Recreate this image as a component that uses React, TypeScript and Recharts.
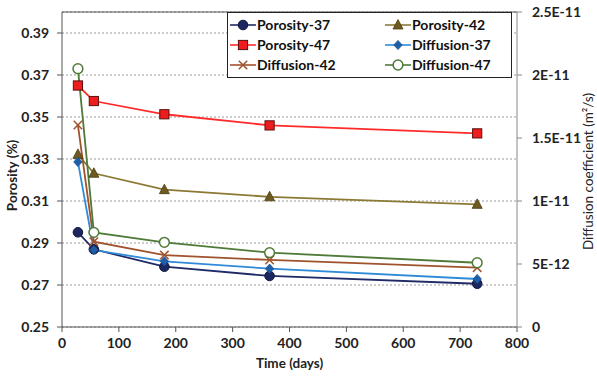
import React from "react";
import { LineChart, Line, XAxis, YAxis, CartesianGrid, Legend, ReferenceLine } from "recharts";

const days = [28, 56, 180, 365, 730];

const porosity37 = [0.2951, 0.287, 0.2787, 0.2743, 0.2706];
const porosity42 = [0.3322, 0.3232, 0.3154, 0.312, 0.3084];
const porosity47 = [0.365, 0.3576, 0.3513, 0.346, 0.3422];

const diffusion37 = [1.31e-11, 6.11e-12, 5.21e-12, 4.63e-12, 3.81e-12];
const diffusion42 = [1.603e-11, 6.77e-12, 5.71e-12, 5.32e-12, 4.71e-12];
const diffusion47 = [2.05e-11, 7.51e-12, 6.72e-12, 5.9e-12, 5.1e-12];

const xTicks = [0, 100, 200, 300, 400, 500, 600, 700, 800];
const porosityTicks = [0.25, 0.27, 0.29, 0.31, 0.33, 0.35, 0.37, 0.39];
const diffTicks = [0, 5e-12, 1e-11, 1.5e-11, 2e-11, 2.5e-11];
const diffTickLabels = ["0", "5E-12", "1E-11", "1.5E-11", "2E-11", "2.5E-11"];

const data = days.map((d, i) => ({
  day: d,
  p37: porosity37[i],
  p42: porosity42[i],
  p47: porosity47[i],
  d37: diffusion37[i],
  d42: diffusion42[i],
  d47: diffusion47[i],
}));

const FONT = "Lato, 'Open Sans', sans-serif";

type Shape = "circle" | "square" | "triangle" | "diamond" | "cross" | "ring";

const series = [
  { key: "p37", name: "Porosity-37", axis: "left", color: "#1f2a66", fill: "#1c2760", shape: "circle" as Shape },
  { key: "p42", name: "Porosity-42", axis: "left", color: "#8c7a34", fill: "#6e5a1e", shape: "triangle" as Shape },
  { key: "p47", name: "Porosity-47", axis: "left", color: "#ff2b2b", fill: "#ee1c1c", shape: "square" as Shape },
  { key: "d37", name: "Diffusion-37", axis: "right", color: "#2f8ad8", fill: "#1d5fa8", shape: "diamond" as Shape },
  { key: "d42", name: "Diffusion-42", axis: "right", color: "#a0522d", fill: "#a0522d", shape: "cross" as Shape },
  { key: "d47", name: "Diffusion-47", axis: "right", color: "#4f7a37", fill: "#4f7a37", shape: "ring" as Shape },
];

function marker(shape: Shape, cx: number, cy: number, fill: string, color: string) {
  switch (shape) {
    case "circle":
      return <circle cx={cx} cy={cy} r={4.8} fill={fill} stroke="#10183a" strokeWidth={1} />;
    case "square":
      return <rect x={cx - 4.6} y={cy - 4.6} width={9.2} height={9.2} fill={fill} stroke="#5a1010" strokeWidth={1} />;
    case "triangle":
      return (
        <polygon
          points={`${cx},${cy - 5.5} ${cx - 5},${cy + 4} ${cx + 5},${cy + 4}`}
          fill={fill}
          stroke="#4a3c12"
          strokeWidth={0.8}
        />
      );
    case "diamond":
      return (
        <polygon
          points={`${cx},${cy - 4.6} ${cx + 4.2},${cy} ${cx},${cy + 4.6} ${cx - 4.2},${cy}`}
          fill={fill}
          stroke="#1a4f8c"
          strokeWidth={0.8}
        />
      );
    case "cross":
      return (
        <g stroke={color} strokeWidth={1.5}>
          <line x1={cx - 4.2} y1={cy - 4.2} x2={cx + 4.2} y2={cy + 4.2} />
          <line x1={cx - 4.2} y1={cy + 4.2} x2={cx + 4.2} y2={cy - 4.2} />
        </g>
      );
    case "ring":
      return <circle cx={cx} cy={cy} r={4.9} fill="#fff" stroke={color} strokeWidth={1.5} />;
  }
}

function makeDot(shape: Shape, fill: string, color: string) {
  return (props: any) => {
    const { cx, cy, index } = props;
    if (cx == null || cy == null) return <g key={index} />;
    return <g key={index}>{marker(shape, cx, cy, fill, color)}</g>;
  };
}

const legendOrder = ["p37", "p42", "p47", "d37", "d42", "d47"];

function renderLegend() {
  return (
    <div
      style={{
        border: "1px solid #222",
        background: "#fff",
        display: "grid",
        gridTemplateColumns: "155px 128px",
        rowGap: 1,
        padding: "2px 0 3px 2px",
        fontFamily: FONT,
        fontWeight: 700,
        fontSize: 14,
        color: "#111",
      }}
    >
      {legendOrder.map((k) => {
        const s = series.find((x) => x.key === k)!;
        return (
          <div key={k} style={{ display: "flex", alignItems: "center", height: 19 }}>
            <svg width={26} height={14} style={{ marginRight: 1 }}>
              <line x1={0} y1={7} x2={26} y2={7} stroke={s.color} strokeWidth={1.6} />
              {marker(s.shape, 13, 7, s.fill, s.color)}
            </svg>
            <span>{s.name}</span>
          </div>
        );
      })}
    </div>
  );
}

const tickStyle = { fontSize: 14, fontWeight: 700, fill: "#222", fontFamily: FONT };

export default function App() {
  return (
    <div style={{ position: "absolute", left: 0, top: 0, width: 597, height: 378, background: "#fff" }}>
      <LineChart width={597} height={378} data={data} margin={{ top: 12, right: 0, bottom: 0, left: 0 }}>
        <CartesianGrid yAxisId="left" vertical={false} stroke="#9a9a9a" strokeDasharray="2 2" />
        <XAxis
          dataKey="day"
          type="number"
          domain={[0, 800]}
          ticks={xTicks}
          height={51}
          tick={tickStyle}
          tickSize={5}
          tickMargin={6}
          stroke="#555"
          label={({ viewBox }: any) => (
            <text
              x={viewBox.x + viewBox.width / 2}
              y={viewBox.y + 41}
              textAnchor="middle"
              style={{ fontSize: 13.5, fontWeight: 700, fill: "#222", fontFamily: FONT }}
            >
              Time (days)
            </text>
          )}
        />
        <YAxis
          yAxisId="left"
          domain={[0.25, 0.4]}
          ticks={porosityTicks}
          width={62}
          tick={tickStyle}
          tickSize={5}
          tickMargin={8}
          tickFormatter={(v: number) => v.toFixed(2)}
          stroke="#555"
          label={({ viewBox }: any) => {
            const x = viewBox.x + 14;
            const y = viewBox.y + viewBox.height / 2 + 6;
            return (
              <text
                x={x}
                y={y}
                transform={`rotate(-90, ${x}, ${y})`}
                textAnchor="middle"
                dominantBaseline="middle"
                style={{ fontSize: 13.5, fontWeight: 700, fill: "#222", fontFamily: FONT }}
              >
                Porosity (%)
              </text>
            );
          }}
        />
        <YAxis
          yAxisId="right"
          orientation="right"
          domain={[0, 2.5e-11]}
          ticks={diffTicks}
          width={80}
          tick={tickStyle}
          tickSize={5}
          tickMargin={10}
          tickFormatter={(v: number) => diffTickLabels[diffTicks.indexOf(v)] ?? ""}
          stroke="#888"
          label={({ viewBox }: any) => {
            const x = viewBox.x + 73;
            const y = viewBox.y + viewBox.height / 2 + 2;
            return (
              <text
                x={x}
                y={y}
                transform={`rotate(-90, ${x}, ${y})`}
                textAnchor="middle"
                dominantBaseline="middle"
                style={{ fontSize: 13.5, fontWeight: 400, fill: "#222", fontFamily: FONT }}
              >
                Diffusion coefficient (m²/s)
              </text>
            );
          }}
        />
        <ReferenceLine yAxisId="left" y={0.4} stroke="#555" />
        {series.map((s) => (
          <Line
            key={s.key}
            yAxisId={s.axis}
            dataKey={s.key}
            name={s.name}
            stroke={s.color}
            strokeWidth={1.8}
            dot={makeDot(s.shape, s.fill, s.color)}
            activeDot={false}
            isAnimationActive={false}
          />
        ))}
        <Legend
          layout="vertical"
          align="center"
          verticalAlign="middle"
          content={renderLegend}
          wrapperStyle={{ position: "absolute", left: 227, top: 12, width: 285, height: "auto" }}
        />
      </LineChart>
    </div>
  );
}
